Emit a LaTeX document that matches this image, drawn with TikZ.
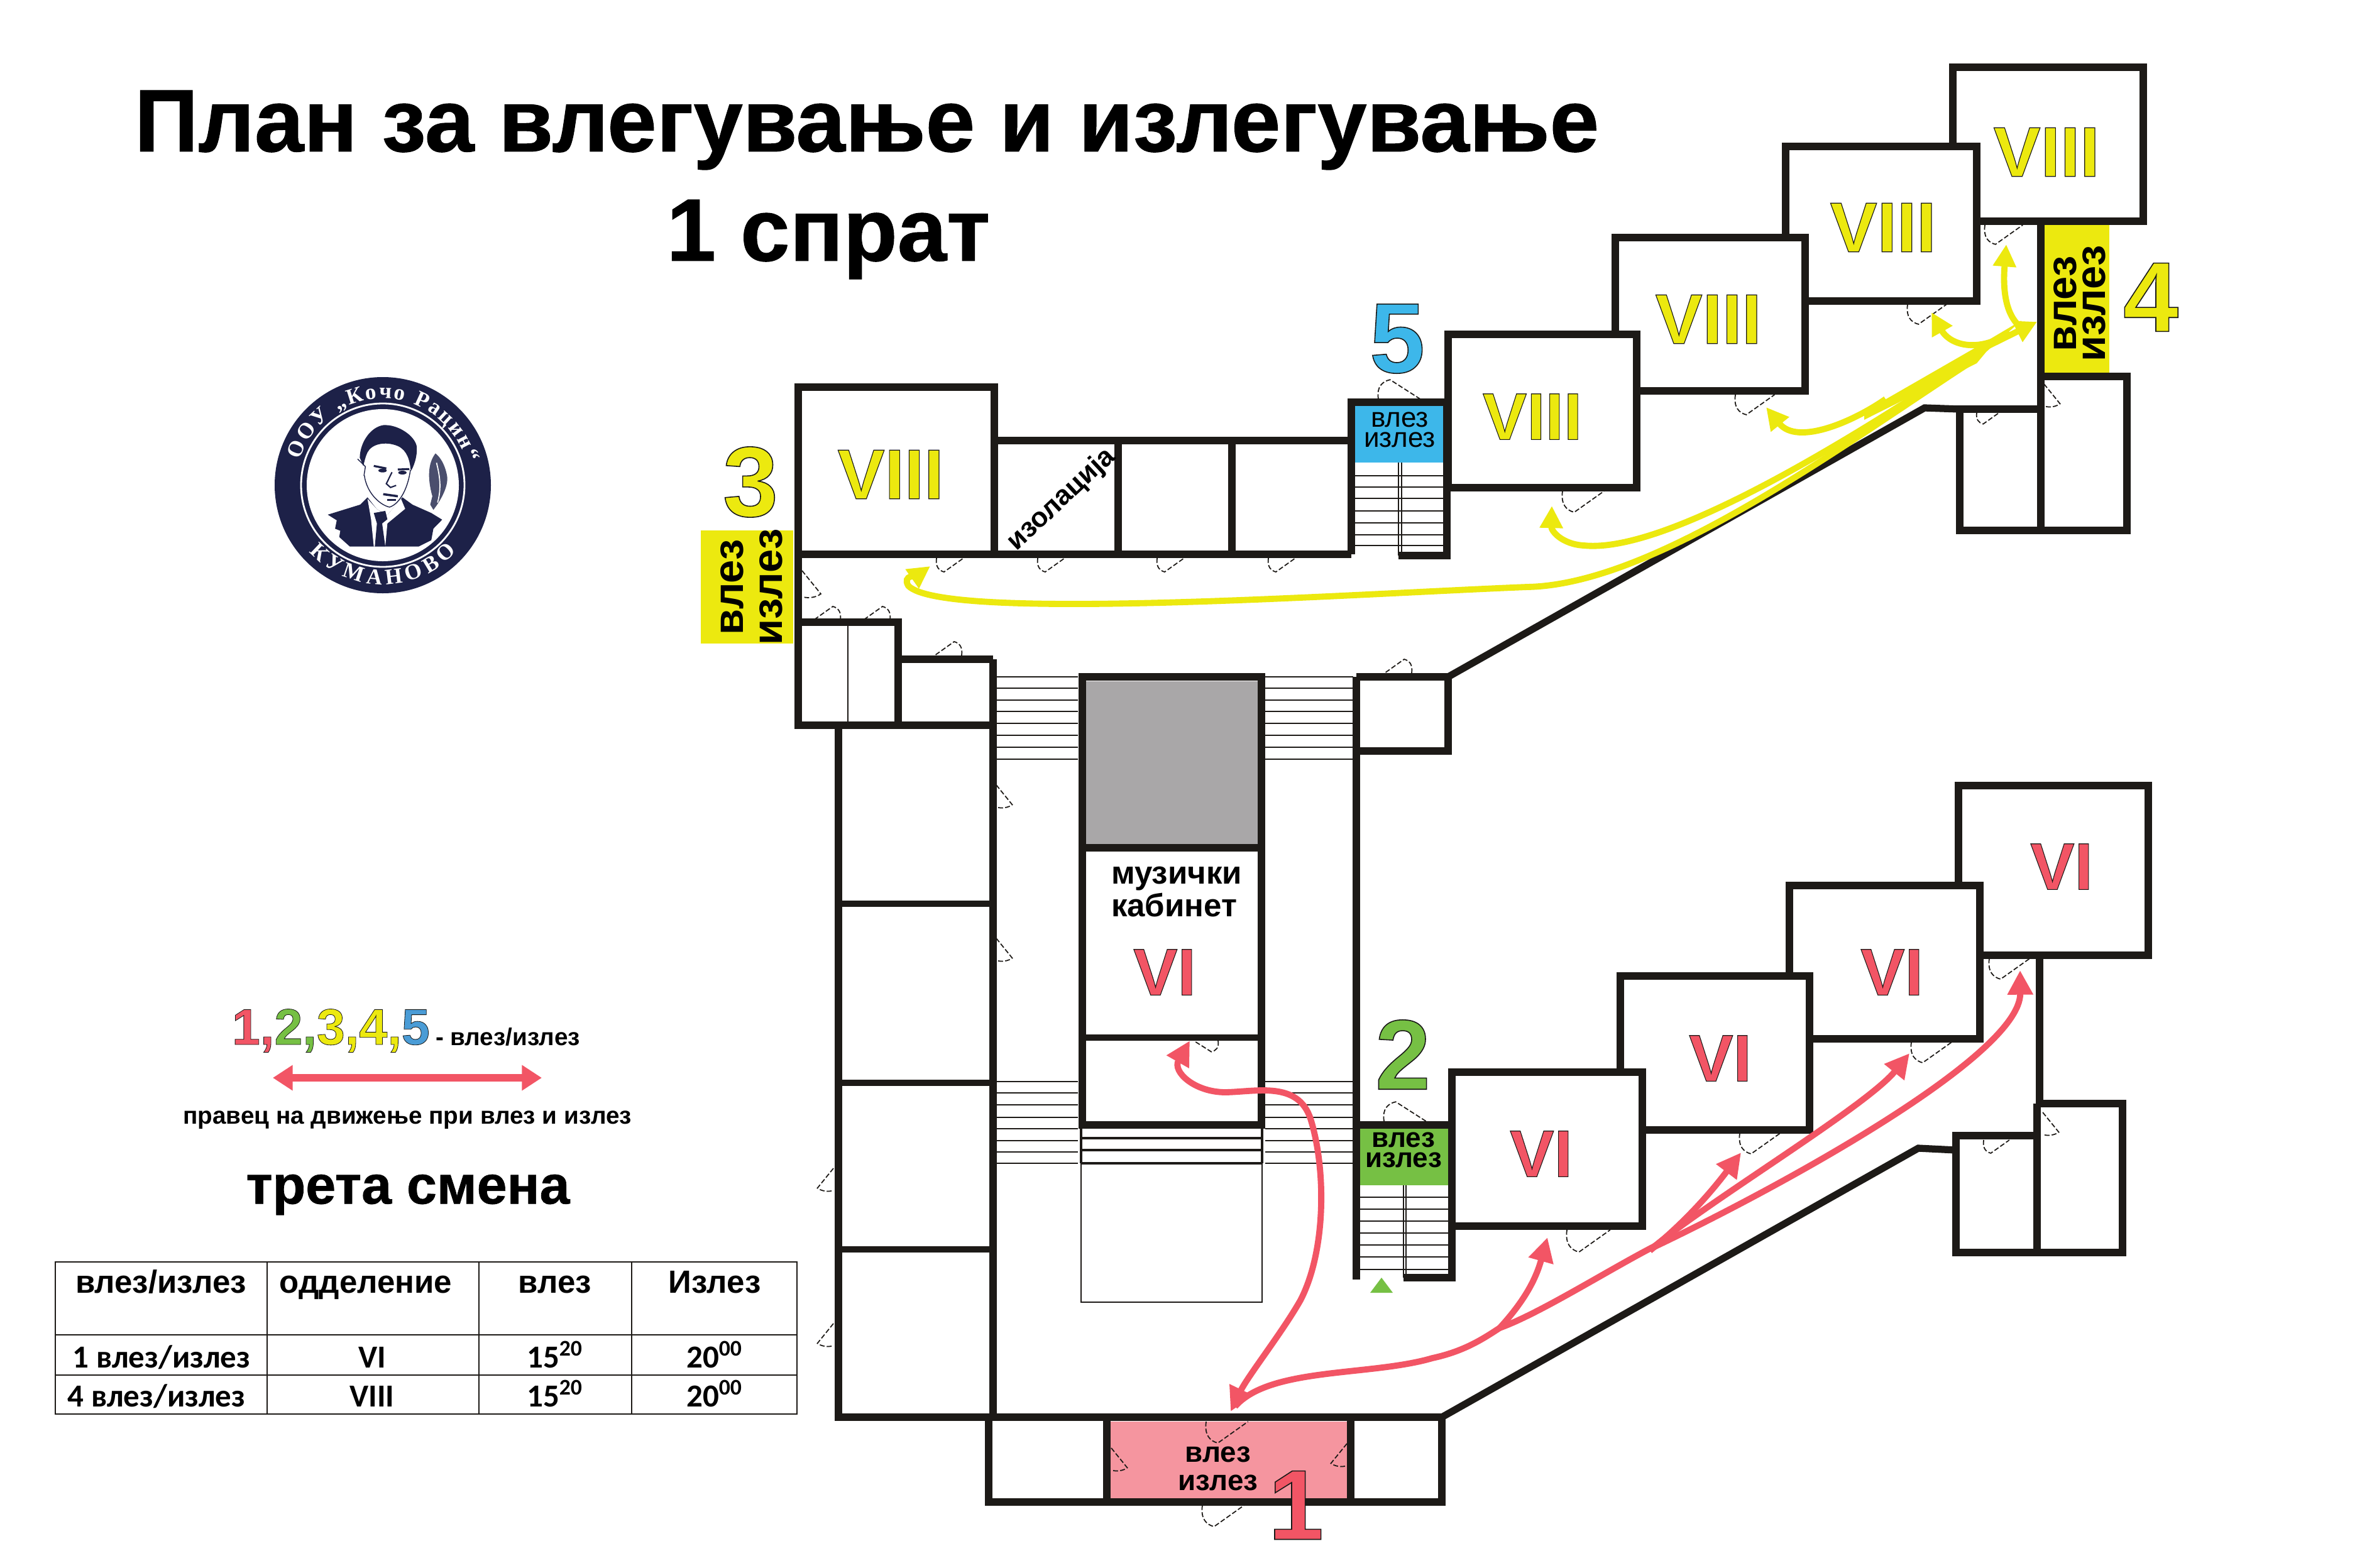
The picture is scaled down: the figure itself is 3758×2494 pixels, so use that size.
\documentclass[tikz,border=0pt]{standalone}
\usepackage{fontspec}
\usetikzlibrary{arrows.meta,decorations.text}
\setmainfont{Liberation Sans}
\newfontface\outlfont{Liberation Sans Bold}[FakeBold=1.0]
\newfontface\heavyfont{Liberation Sans Bold}[FakeBold=0.8]
\newfontfamily\carl{Carlito}
\newfontfamily\logofont{Liberation Serif}
\definecolor{wallc}{HTML}{1D1A17}
\definecolor{redc}{HTML}{F25565}
\definecolor{yelc}{HTML}{ECE90F}
\definecolor{bluec}{HTML}{3DB7EA}
\definecolor{grnc}{HTML}{76C044}
\definecolor{pinkc}{HTML}{F5959F}
\definecolor{grayc}{HTML}{A9A7A8}
\definecolor{navy}{HTML}{1D2148}
\definecolor{legblue}{HTML}{4A9CD6}
\newcommand\sz[1]{\fontsize{#1}{#1}\selectfont}
\newcommand\outl[3]{{\outlfont\sz{#1}\color{#2}\special{pdf:code 0.1 0.1 0.09 RG}#3}}
\newcommand\heavy[2]{{\heavyfont\sz{#1}#2}}
\tikzset{
 wall/.style={draw=wallc,line width=3.6pt,miter limit=10},
 thinwall/.style={draw=wallc,line width=0.5pt},
 midwall/.style={draw=wallc,line width=1.1pt},
 stairline/.style={draw=wallc,line width=0.45pt},
 doorline/.style={draw=wallc,line width=0.5pt,dash pattern=on 2.2pt off 1pt},
 door/.pic={\draw[doorline] (0,0) .. controls (-2,14) and (4,20) .. (12,22) -- (43,0);},
 doorv/.pic={\draw[doorline] (0,0) -- (30,37) .. controls (22,43) and (10,44) .. (2,42);},
 redarrow/.style={draw=redc,line width=2.8pt,-{Triangle[length=11pt,width=11pt]}},
 redline/.style={draw=redc,line width=2.8pt},
 yelarrow/.style={draw=yelc,line width=2.8pt,-{Triangle[length=10pt,width=10pt]}},
 yelline/.style={draw=yelc,line width=2.8pt},
 lbl/.style={inner sep=0pt,outer sep=0pt,align=center,text=black},
 tcell/.style={inner sep=0pt,outer sep=0pt,anchor=base,text=black},
 trule/.style={draw=wallc,line width=0.5pt},
}
\begin{document}
\begin{tikzpicture}[x=0.01cm,y=-0.01cm]
\useasboundingbox (0,0) rectangle (3758,2494);
\fill[white] (0,0) rectangle (3758,2494);

% fills
\fill[yelc] (1115,844) rectangle (1262,1024);
\fill[yelc] (3253,358) rectangle (3356,593);
\fill[bluec] (2155,646) rectangle (2297,736);
\fill[grnc] (2163,1792) rectangle (2306,1886);
\fill[pinkc] (1766,2262) rectangle (2145,2385);
\fill[grayc] (1726,1084) rectangle (2001,1344);

% stairs
\foreach \y in {1077,1095,1114,1132,1151,1170,1189,1208}{
 \draw[stairline] (1585,\y) -- (1715,\y);
 \draw[stairline] (2013,\y) -- (2153,\y);}
\foreach \y in {1721,1739,1758,1778,1796,1815,1833,1851}{
 \draw[stairline] (1585,\y) -- (1715,\y);
 \draw[stairline] (2013,\y) -- (2153,\y);}
\foreach \y in {757,775,793,813,832,851,868}{\draw[stairline] (2155,\y) -- (2297,\y);}
\draw[stairline] (2225,736) -- (2225,884) (2230,736) -- (2230,884);
\foreach \y in {1905,1924,1943,1962,1981,2000,2020}{\draw[stairline] (2163,\y) -- (2305,\y);}
\draw[stairline] (2233,1886) -- (2233,2033) (2237,1886) -- (2237,2033);
\draw[thinwall] (1720,1851) rectangle (2008,2072);
\fill[grnc] (2180,2057) -- (2198,2033) -- (2216,2057) -- cycle;

% upper wing walls
\draw[wall] (1270,882) rectangle (1582,616);
\draw[wall] (1582,701) -- (2150,701);
\draw[wall] (1582,882) -- (2150,882);
\draw[wall] (1779,701) -- (1779,882);
\draw[wall] (1960,701) -- (1960,882);
\draw[wall] (2150,882) -- (2150,640) -- (2302,640) -- (2302,884) -- (2225,884);
\draw[wall] (2304,532) rectangle (2604,776);
\draw[wall] (2570,532) -- (2570,378) -- (2872,378) -- (2872,622) -- (2604,622);
\draw[wall] (2841,378) -- (2841,233) -- (3145,233) -- (3145,479) -- (2872,479);
\draw[wall] (3107,233) -- (3107,107) -- (3410,107) -- (3410,352) -- (3145,352);
\draw[wall] (3247,352) -- (3247,844);
\draw[wall] (3247,599) -- (3384,599) -- (3384,844) -- (3118,844) -- (3118,651) -- (3247,651);
\draw[wall,line width=3.2pt] (2304,1077) -- (3062,649) -- (3118,651);

% left wing, corridor
\draw[wall] (1270,882) -- (1270,1154) -- (1580,1154);
\draw[wall] (1270,990) -- (1429,990) -- (1429,1154);
\draw[wall] (1429,1049) -- (1580,1049);
\draw[thinwall] (1349,990) -- (1349,1154);
\draw[wall] (1580,1049) -- (1580,2255);
\draw[wall] (1334,1155) -- (1334,2255) -- (1580,2255);
\draw[wall,line width=2.8pt] (1334,1438) -- (1580,1438) (1334,1723) -- (1580,1723) (1334,1988) -- (1580,1988);

% central block
\draw[wall] (1722,1790) -- (1722,1077) -- (2007,1077) -- (2007,1790) -- cycle;
\draw[wall] (1722,1349) -- (2007,1349);
\draw[wall,line width=2.6pt] (1722,1651) -- (2007,1651);
\draw[midwall,line width=1.4pt] (1720,1811) -- (2008,1811) (1720,1830) -- (2008,1830) (1720,1851) -- (2008,1851);
\draw[midwall] (1720,1790) -- (1720,1851) (2008,1790) -- (2008,1851);

% right of the corridor
\draw[wall] (2158,1077) -- (2158,2036);
\draw[wall] (2158,1077) -- (2304,1077) -- (2304,1195) -- (2158,1195);

% lower wing walls
\draw[wall] (2158,1790) -- (2310,1790) -- (2310,2033) -- (2233,2033);
\draw[wall] (2310,1706) rectangle (2613,1951);
\draw[wall] (2578,1706) -- (2578,1553) -- (2879,1553) -- (2879,1798) -- (2613,1798);
\draw[wall] (2847,1553) -- (2847,1409) -- (3150,1409) -- (3150,1653) -- (2879,1653);
\draw[wall] (3116,1409) -- (3116,1250) -- (3418,1250) -- (3418,1520) -- (3150,1520);
\draw[wall] (3245,1520) -- (3245,1756);
\draw[wall] (3241,1756) -- (3377,1756) -- (3377,1993) -- (3112,1993) -- (3112,1807) -- (3241,1807);
\draw[wall] (3241,1756) -- (3241,1993);
\draw[wall,line width=3.2pt] (2294,2255) -- (3052,1827) -- (3112,1830);

% bottom block
\draw[wall] (1573,2255) -- (2294,2255) -- (2294,2390) -- (1573,2390) -- cycle;
\draw[wall] (1761,2255) -- (1761,2390);
\draw[wall] (2149,2255) -- (2149,2390);

% doors
\foreach \x in {1490,1651,1841,2018}{\pic at (\x,888) {door};}
\pic[scale=1.55] at (2486,781) {door};
\pic[scale=1.45] at (2761,628) {door};
\pic[scale=1.45] at (3035,484) {door};
\pic[scale=1.4] at (3158,358) {door};
\pic[scale=0.85] at (3252,611) {doorv};
\pic[scale=0.85] at (3145,656) {door};
\pic[yscale=-1.4,xscale=1.55] at (2193,635) {door};
\pic at (1276,908) {doorv};
\pic[rotate=180] at (1337,987) {door};
\pic[rotate=180] at (1416,987) {door};
\pic[rotate=180] at (1530,1043) {door};
\pic[rotate=180] at (2246,1071) {door};
\pic[scale=0.85] at (1585,1249) {doorv};
\pic[scale=0.85] at (1585,1493) {doorv};
\pic[xscale=-0.85,yscale=0.85] at (1326,1859) {doorv};
\pic[xscale=-0.85,yscale=0.85] at (1326,2106) {doorv};
\pic[xscale=-0.9,yscale=0.8] at (1938,1656) {door};
\pic[yscale=-1.4,xscale=1.55] at (2202,1784) {door};
\pic[scale=1.55] at (1919,2262) {door};
\pic[scale=1.55] at (1913,2395) {door};
\pic[scale=0.85] at (1768,2304) {doorv};
\pic[xscale=-0.85,yscale=0.85] at (2143,2297) {doorv};
\pic[scale=1.6] at (2493,1957) {door};
\pic[scale=1.5] at (2768,1803) {door};
\pic[scale=1.5] at (3041,1658) {door};
\pic[scale=1.5] at (3165,1525) {door};
\pic[scale=0.85] at (3250,1770) {doorv};
\pic[scale=0.95] at (3156,1814) {door};

% title
\node[lbl] (title) at (1379,207) {\heavy{40.1}{План за влегување и излегување}};
\node[lbl] (floor) at (1318,381) {\heavy{40.1}{1 спрат}};

% class labels
\node[lbl] (v1) at (1417,755) {\outl{32}{yelc}{VIII}};
\node[lbl] (v2) at (2438,663) {\outl{30}{yelc}{VIII}};
\node[lbl] (v3) at (2718,508) {\outl{32}{yelc}{VIII}};
\node[lbl] (v4) at (2996,362) {\outl{32}{yelc}{VIII}};
\node[lbl] (v5) at (3256,242) {\outl{32}{yelc}{VIII}};
\node[lbl] (r0) at (1853,1547) {\outl{30}{redc}{VI}};
\node[lbl] (r1) at (2452,1836) {\outl{30}{redc}{VI}};
\node[lbl] (r2) at (2737,1684) {\outl{30}{redc}{VI}};
\node[lbl] (r3) at (3010,1547) {\outl{30}{redc}{VI}};
\node[lbl] (r4) at (3280,1379) {\outl{30}{redc}{VI}};

% entrance numbers
\node[lbl] (n1) at (2062,2395) {\outl{45}{redc}{1}};
\node[lbl] (n2) at (2232,1678) {\outl{45}{grnc}{2}};
\node[lbl] (n3) at (1194,767) {\outl{45}{yelc}{3}};
\node[lbl] (n4) at (3422,473) {\outl{45}{yelc}{4}};
\node[lbl] (n5) at (2223,539) {\outl{45}{bluec}{5}};

% entrance labels
\node[lbl,rotate=90,font=\bfseries\fontsize{19}{17.6}\selectfont] (e3) at (1196,934) {влез\\излез};
\node[lbl,rotate=90,font=\bfseries\fontsize{19}{13}\selectfont] (e4) at (3309,483) {влез\\излез};
\node[lbl,font=\fontsize{12.5}{9.1}\selectfont] (e5) at (2227,684) {влез\\излез};
\node[lbl,font=\bfseries\fontsize{12.5}{9.1}\selectfont] (e2) at (2233,1830) {влез\\излез};
\node[lbl,font=\bfseries\fontsize{13}{13}\selectfont] (e1) at (1938,2337) {влез\\излез};
\node[lbl,align=left,font=\bfseries\fontsize{14.5}{12.2}\selectfont] (music) at (1872,1419) {музички\\кабинет};
\node[lbl,rotate=43,font=\bfseries\fontsize{12.5}{12.5}\selectfont] (iso) at (1689,795) {изолација};

% yellow arrows
\coordinate (yh) at (3241,512);
\coordinate (ya) at (1480,901);
\coordinate (yb) at (2469,805);
\coordinate (yc) at (2810,648);
\coordinate (yd) at (3073,497);
\coordinate (ye) at (3192,389);
\draw[yelarrow] (3145,570) .. controls (2950,695) and (2640,930) .. (2430,934) .. controls (2150,945) and (1500,990) .. (1445,932) .. controls (1435,915) and (1460,915) .. (ya);
\draw[yelarrow] (3145,566) .. controls (2900,730) and (2640,880) .. (2520,868) .. controls (2485,866) and (2468,845) .. (yb);
\draw[yelarrow] (3000,635) .. controls (2950,670) and (2860,710) .. (yc);
\draw[yelarrow] (3198,530) .. controls (3140,565) and (3100,545) .. (yd);
\draw[yelarrow] (3210,516) .. controls (3185,490) and (3188,440) .. (ye);
\draw[yelarrow] (3160,552) -- (yh);
\fill[yelc] (2966,655) -- (3145,552) -- (3216,510) -- (3160,560) -- (3145,578) -- (2966,668) -- cycle;

% red arrows
\coordinate (ra) at (1893,1656);
\coordinate (rb) at (1958,2246);
\coordinate (rc) at (2462,1969);
\coordinate (rd) at (2770,1834);
\coordinate (re) at (3038,1676);
\coordinate (rf) at (3214,1544);
\coordinate (rh) at (2386,2113);
\draw[redline,{Triangle[length=11pt,width=11pt]}-{Triangle[length=11pt,width=11pt]}] (rb) .. controls (1985,2190) and (2040,2120) .. (2069,2069) .. controls (2110,1990) and (2110,1860) .. (2085,1780) .. controls (2065,1720) and (2000,1737) .. (1950,1738) .. controls (1900,1738) and (1865,1705) .. (ra);
\draw[redline] (1965,2238) .. controls (2020,2175) and (2180,2190) .. (2279,2161) .. controls (2330,2150) and (2360,2130) .. (rh);
\draw[redline] (rh) .. controls (2450,2090) and (2560,2020) .. (2636,1981);
\draw[redarrow] (rh) .. controls (2430,2065) and (2445,2030) .. (rc);
\draw[redarrow] (2625,1990) .. controls (2680,1945) and (2720,1900) .. (rd);
\draw[redarrow] (2630,1985) .. controls (2720,1910) and (2970,1760) .. (re);
\draw[redarrow] (2630,1985) .. controls (2830,1890) and (3215,1680) .. (rf);

% legend
\node[lbl,anchor=west] (leg1) at (369,1640) {\outl{23}{redc}{1,}\outl{23}{grnc}{2,}\outl{23}{yelc}{3,}\outl{23}{yelc}{4,}\outl{23}{legblue}{5}};
\node[lbl,anchor=west] (leg2) at (693,1650) {\bfseries\sz{11}- влез/излез};
\coordinate (la) at (434,1715);
\coordinate (lb) at (862,1715);
\draw[redline,line width=3.4pt,{Triangle[length=9pt,width=11pt]}-{Triangle[length=9pt,width=11pt]}] (la) -- (lb);
\node[lbl] (leg3) at (648,1782) {\bfseries\sz{11}правец на движење при влез и излез};
\node[lbl] (shift) at (649,1901) {\heavy{24.5}{трета смена}};

% table
\draw[trule] (88,2008) rectangle (1268,2250);
\draw[trule] (88,2124) -- (1268,2124) (88,2188) -- (1268,2188);
\draw[trule] (425,2008) -- (425,2250) (762,2008) -- (762,2250) (1005,2008) -- (1005,2250);
\node[tcell] (h1) at (256,2057) {\bfseries\sz{14.5}влез/излез};
\node[tcell] (h2) at (582,2057) {\bfseries\sz{14.5}одделение};
\node[tcell] (h3) at (883,2057) {\bfseries\sz{14.5}влез};
\node[tcell] (h4) at (1137,2057) {\bfseries\sz{14.5}Излез};
\node[tcell] (a1) at (257,2176) {\carl\bfseries\sz{14.5}1 влез/излез};
\node[tcell] (a2) at (592,2176) {\carl\bfseries\sz{14.5}VI};
\node[tcell] (a3) at (883,2176) {\carl\bfseries\sz{14.5}15\textsuperscript{20}};
\node[tcell] (a4) at (1137,2176) {\carl\bfseries\sz{14.5}20\textsuperscript{00}};
\node[tcell] (b1) at (249,2238) {\carl\bfseries\sz{14.5}4 влез/излез};
\node[tcell] (b2) at (592,2238) {\carl\bfseries\sz{14.5}VIII};
\node[tcell] (b3) at (883,2238) {\carl\bfseries\sz{14.5}15\textsuperscript{20}};
\node[tcell] (b4) at (1137,2238) {\carl\bfseries\sz{14.5}20\textsuperscript{00}};

% logo
\begin{scope}[shift={(609,772)},x=0.01cm,y=0.01cm]
 \fill[navy] (0,0) circle (172);
 \draw[white,line width=0.8pt] (0,0) circle (130);
 \fill[white] (0,0) circle (121);
 \path[decorate,decoration={text along path,text align={fit to path},text={|\color{white}\logofont\bfseries\sz{10}|ООУ „Кочо Рацин“}}] (163:138) arc (163:15:138);
 \path[decorate,decoration={text along path,text align={fit to path},text={|\color{white}\logofont\bfseries\sz{10}|КУМАНОВО}}] (222:158) arc (222:318:158);
\end{scope}
\begin{scope}[shift={(400,570)},x=0.0033333cm,y=-0.0033333cm]
 \fill[navy] (365,748) -- (520,700) -- (555,665) -- (600,722) -- (650,750) -- (722,665) -- (770,700) -- (860,740) -- (912,772) -- (870,815) -- (860,870) -- (800,900) -- (470,900) -- (420,855) -- (425,825) -- (400,815) -- (408,775) -- cycle;
 \fill[white] (555,672) -- (600,722) -- (650,750) -- (715,672) -- (735,720) -- (650,790) -- (640,900) -- (585,900) -- (572,770) -- cycle;
 \fill[navy] (585,740) -- (640,730) -- (650,770) -- (625,790) -- (640,900) -- (590,900) -- (600,790) -- cycle;
 \fill[navy] (518,475) .. controls (520,400) and (570,330) .. (630,320) .. controls (700,315) and (780,370) .. (790,420) .. controls (795,470) and (775,520) .. (762,540) .. controls (758,490) and (745,440) .. (700,420) .. controls (640,395) and (575,410) .. (555,450) .. controls (545,470) and (540,495) .. (535,515) -- cycle;
 \draw[navy,line width=0.4pt] (508,482) -- (545,518) -- (538,562) (540,560) .. controls (550,640) and (610,700) .. (660,712) .. controls (700,700) and (745,640) .. (760,535);
 \draw[navy,line width=0.9pt] (585,515) -- (645,527) (700,532) -- (755,530);
 \fill[navy] (627,537) ellipse (20 and 9) (722,547) ellipse (20 and 9);
 \draw[navy,line width=0.6pt] (672,545) -- (645,600) -- (665,618) -- (692,608);
 \draw[navy,line width=1pt] (630,650) -- (700,660);
 \draw[navy,line width=0.8pt] (650,678) -- (690,678);
 \fill[navy!80!white] (880,455) .. controls (845,500) and (840,570) .. (865,660) -- (855,700) -- (870,725) .. controls (905,680) and (945,610) .. (935,560) .. controls (925,510) and (905,475) .. (880,455) -- cycle;
 \draw[white,line width=0.5pt] (885,500) .. controls (900,560) and (910,620) .. (890,690);
\end{scope}
\end{tikzpicture}
\end{document}
